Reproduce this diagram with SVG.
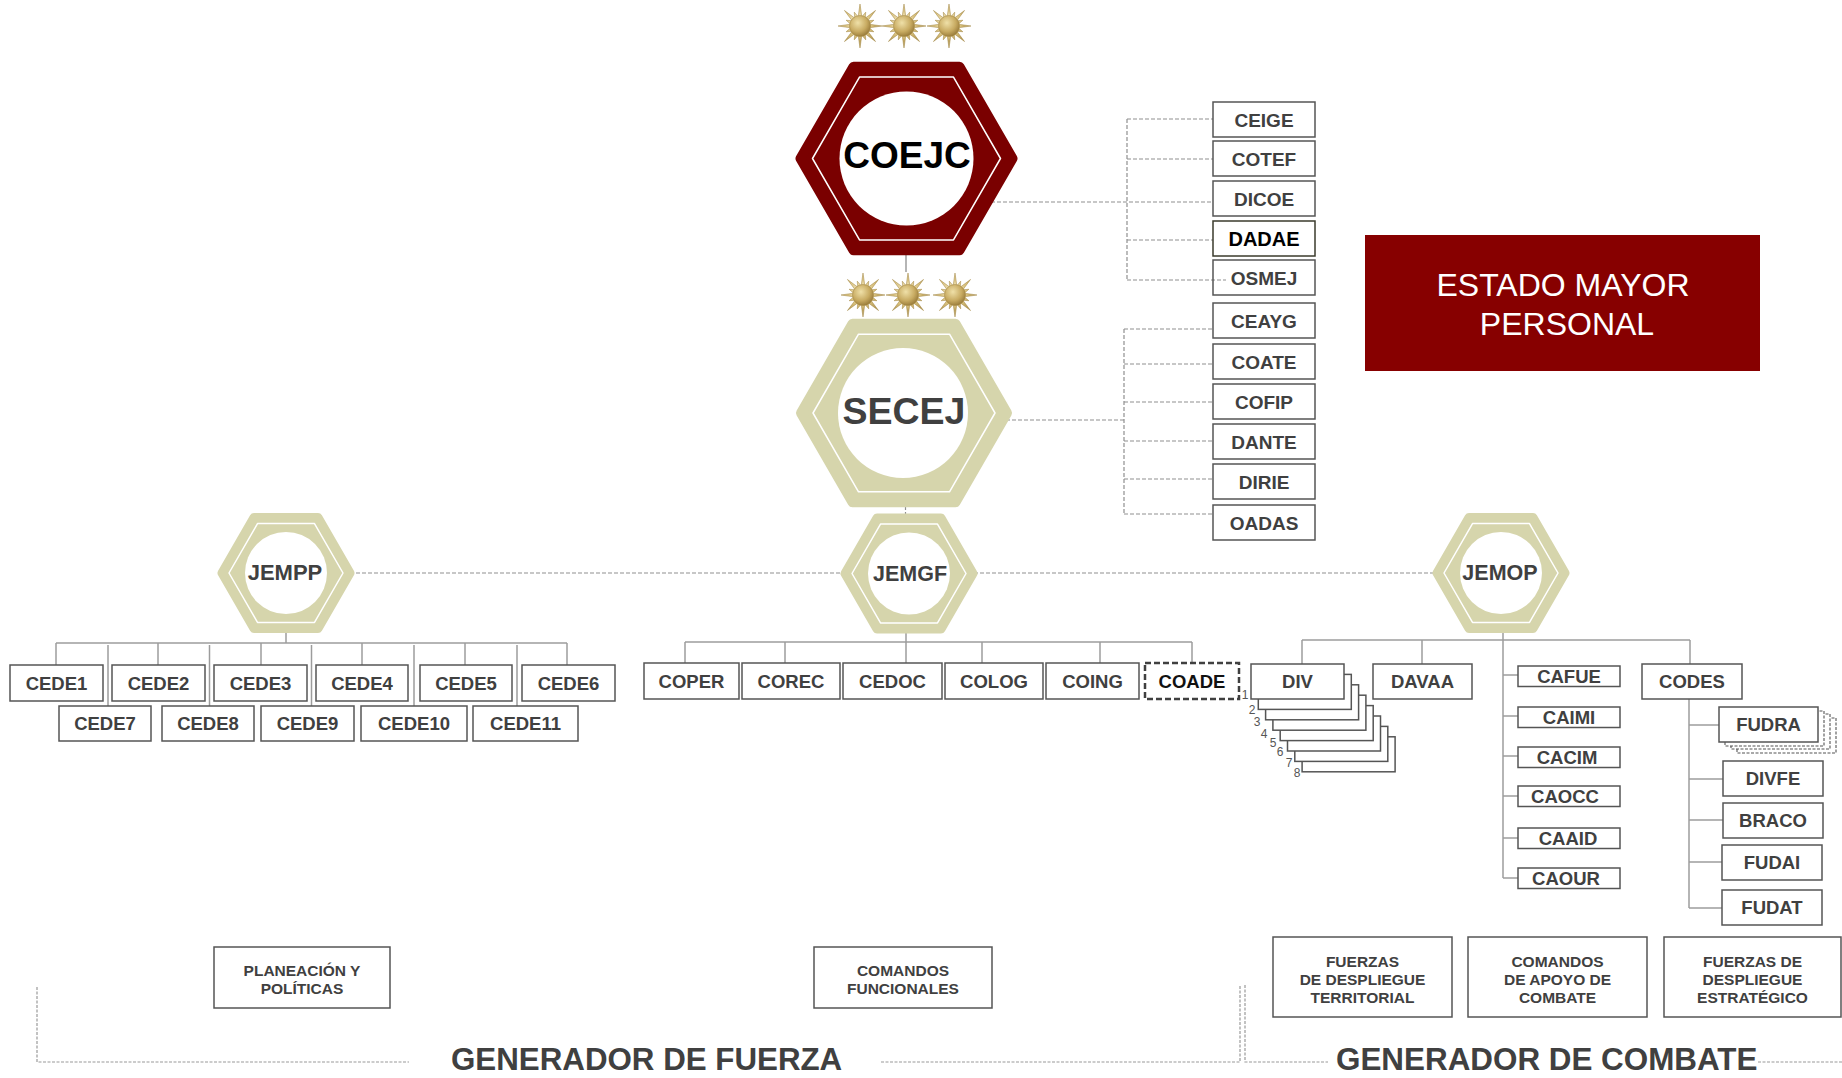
<svg xmlns="http://www.w3.org/2000/svg" width="1842" height="1078" viewBox="0 0 1842 1078">
<style>
.bg{fill:#ffffff}
.box{fill:#ffffff;stroke:#555555;stroke-width:1.5}
.t{font-family:"Liberation Sans",Arial,Helvetica,sans-serif;font-weight:bold;fill:#404040;text-anchor:middle}
.tb{font-size:18.5px}
.tr{font-size:19px}
.tl{font-size:15.5px}
.conn{stroke:#9c9c9c;stroke-width:1.5;fill:none}
.dash{stroke:#8f8f8f;stroke-width:1.2;stroke-dasharray:4 2;fill:none}
.dashb{stroke:#9a9a9a;stroke-width:1.2;stroke-dasharray:3 1.5;fill:none}
.hexk{fill:#d6d5ac;stroke:#d6d5ac;stroke-linejoin:round}
.hexr{fill:#7a0000;stroke:#7a0000;stroke-linejoin:round}
.inner{fill:none;stroke:#ffffff;stroke-width:1.5;stroke-linejoin:round}
.num{font-family:"Liberation Sans",Arial,sans-serif;font-size:12px;fill:#555555;text-anchor:middle}
</style>
<defs>
<radialGradient id="gold" cx="0.45" cy="0.4" r="0.65">
<stop offset="0" stop-color="#f6ecc6"/>
<stop offset="0.5" stop-color="#d8c07c"/>
<stop offset="1" stop-color="#9c7f3a"/>
</radialGradient>
<radialGradient id="goldc" cx="0.4" cy="0.35" r="0.7">
<stop offset="0" stop-color="#efe0a8"/>
<stop offset="0.6" stop-color="#c8ab62"/>
<stop offset="1" stop-color="#947636"/>
</radialGradient>
<g id="star">
<polygon fill="url(#gold)" stroke="#a08440" stroke-width="0.5" points="0,-22 1.85,-9.32 5.74,-13.86 5.28,-7.9 15.56,-15.56 7.9,-5.28 13.86,-5.74 9.32,-1.85 22,0 9.32,1.85 13.86,5.74 7.9,5.28 15.56,15.56 5.28,7.9 5.74,13.86 1.85,9.32 0,22 -1.85,9.32 -5.74,13.86 -5.28,7.9 -15.56,15.56 -7.9,5.28 -13.86,5.74 -9.32,1.85 -22,0 -9.32,-1.85 -13.86,-5.74 -7.9,-5.28 -15.56,-15.56 -5.28,-7.9 -5.74,-13.86 -1.85,-9.32"/>
<circle r="10.5" fill="url(#goldc)" stroke="#a08440" stroke-width="0.5"/>
</g>
</defs>
<rect class="bg" x="0" y="0" width="1842" height="1078"/>

<g id="connectors">
<line class="dash" x1="985" y1="202" x2="1213" y2="202"/>
<line class="dash" x1="1127" y1="119" x2="1127" y2="280"/>
<line class="dash" x1="1127" y1="119" x2="1213" y2="119"/>
<line class="dash" x1="1127" y1="159" x2="1213" y2="159"/>
<line class="dash" x1="1127" y1="240" x2="1213" y2="240"/>
<line class="dash" x1="1127" y1="280" x2="1226" y2="280"/>
<line class="dash" x1="1000" y1="420" x2="1124" y2="420"/>
<line class="dash" x1="1124" y1="329" x2="1124" y2="514"/>
<line class="dash" x1="1124" y1="329" x2="1213" y2="329"/>
<line class="dash" x1="1124" y1="364" x2="1213" y2="364"/>
<line class="dash" x1="1124" y1="402" x2="1213" y2="402"/>
<line class="dash" x1="1124" y1="441" x2="1213" y2="441"/>
<line class="dash" x1="1124" y1="479" x2="1213" y2="479"/>
<line class="dash" x1="1124" y1="514" x2="1213" y2="514"/>
<line class="conn" x1="906" y1="250" x2="906" y2="272" stroke-width="1.2"/>
<line class="dash" x1="905.5" y1="500" x2="905.5" y2="518"/>
<line class="dash" x1="350" y1="573" x2="1436" y2="573"/>
<line class="conn" x1="286" y1="630" x2="286" y2="643"/>
<line class="conn" x1="56" y1="643" x2="567" y2="643"/>
<line class="conn" x1="56" y1="643" x2="56" y2="665"/>
<line class="conn" x1="158" y1="643" x2="158" y2="665"/>
<line class="conn" x1="261" y1="643" x2="261" y2="665"/>
<line class="conn" x1="362" y1="643" x2="362" y2="665"/>
<line class="conn" x1="465" y1="643" x2="465" y2="665"/>
<line class="conn" x1="567" y1="643" x2="567" y2="665"/>
<line class="conn" x1="108" y1="645" x2="108" y2="706"/>
<line class="conn" x1="209.5" y1="645" x2="209.5" y2="706"/>
<line class="conn" x1="311.5" y1="645" x2="311.5" y2="706"/>
<line class="conn" x1="414" y1="645" x2="414" y2="706"/>
<line class="conn" x1="517" y1="645" x2="517" y2="706"/>
<line class="conn" x1="906" y1="630" x2="906" y2="663"/>
<line class="conn" x1="685" y1="642" x2="1192" y2="642"/>
<line class="conn" x1="685" y1="642" x2="685" y2="663"/>
<line class="conn" x1="785" y1="642" x2="785" y2="663"/>
<line class="conn" x1="982" y1="642" x2="982" y2="663"/>
<line class="conn" x1="1100" y1="642" x2="1100" y2="663"/>
<line class="conn" x1="1192" y1="642" x2="1192" y2="663"/>
<line class="conn" x1="1503" y1="630" x2="1503" y2="878"/>
<line class="conn" x1="1302" y1="640" x2="1690" y2="640"/>
<line class="conn" x1="1302" y1="640" x2="1302" y2="664"/>
<line class="conn" x1="1422" y1="640" x2="1422" y2="664"/>
<line class="conn" x1="1690" y1="640" x2="1690" y2="664"/>
<line class="conn" x1="1503" y1="675" x2="1518" y2="675"/>
<line class="conn" x1="1503" y1="716" x2="1518" y2="716"/>
<line class="conn" x1="1503" y1="756" x2="1518" y2="756"/>
<line class="conn" x1="1503" y1="796" x2="1518" y2="796"/>
<line class="conn" x1="1503" y1="838" x2="1518" y2="838"/>
<line class="conn" x1="1503" y1="878" x2="1518" y2="878"/>
<line class="conn" x1="1689" y1="699" x2="1689" y2="908"/>
<line class="conn" x1="1689" y1="725" x2="1719" y2="725"/>
<line class="conn" x1="1689" y1="779" x2="1723" y2="779"/>
<line class="conn" x1="1689" y1="820" x2="1723" y2="820"/>
<line class="conn" x1="1689" y1="862" x2="1722" y2="862"/>
<line class="conn" x1="1689" y1="908" x2="1722" y2="908"/>
<polyline class="dashb" points="37,987 37,1062 409,1062"/>
<polyline class="dashb" points="881,1062 1240,1062 1240,985"/>
<polyline class="dashb" points="1245,985 1245,1062 1328,1062"/>
<line class="dashb" x1="1758" y1="1062" x2="1842" y2="1062"/>
</g>

<g id="stars-top">
<use href="#star" transform="translate(860,26)"/>
<use href="#star" transform="translate(904,26)"/>
<use href="#star" transform="translate(949,26)"/>
</g>
<g id="stars-secej">
<use href="#star" transform="translate(863,295)"/>
<use href="#star" transform="translate(908,295)"/>
<use href="#star" transform="translate(955,295)"/>
</g>

<g id="COEJC">
<polygon class="hexr" stroke-width="10" points="1012.5,158.5 959.5,250.3 853.5,250.3 800.5,158.5 853.5,66.7 959.5,66.7"/>
<polygon class="inner" points="1000.5,158.5 953.5,239.9 859.5,239.9 812.5,158.5 859.5,77.1 953.5,77.1"/>
<circle cx="906.5" cy="158.5" r="67" fill="#ffffff"/>
<text class="t" x="907" y="168" font-size="37" style="fill:#000000">COEJC</text>
</g>

<g id="SECEJ">
<polygon class="hexk" stroke-width="10" points="1007,413 955.5,502.2 852.5,502.2 801,413 852.5,323.8 955.5,323.8"/>
<polygon class="inner" points="995,413 949.5,491.8 858.5,491.8 813,413 858.5,334.2 949.5,334.2"/>
<circle cx="903" cy="413" r="65" fill="#ffffff"/>
<text class="t" x="904" y="424" font-size="37.5">SECEJ</text>
</g>

<g id="JEMPP">
<polygon class="hexk" stroke-width="9" points="350,573 318,628.4 254,628.4 222,573 254,517.6 318,517.6"/>
<polygon class="inner" points="343,573 314.5,622.4 257.5,622.4 229,573 257.5,523.6 314.5,523.6"/>
<circle cx="286" cy="573" r="41" fill="#ffffff"/>
<text class="t" x="285" y="579.5" font-size="22">JEMPP</text>
</g>

<g id="JEMGF">
<polygon class="hexk" stroke-width="9" points="973,573.5 941,628.9 877,628.9 845,573.5 877,518.1 941,518.1"/>
<polygon class="inner" points="966,573.5 937.5,622.9 880.5,622.9 852,573.5 880.5,524.1 937.5,524.1"/>
<circle cx="909" cy="573.5" r="41" fill="#ffffff"/>
<text class="t" x="910" y="581" font-size="21.5">JEMGF</text>
</g>

<g id="JEMOP">
<polygon class="hexk" stroke-width="9" points="1565,573 1533,628.4 1469,628.4 1437,573 1469,517.6 1533,517.6"/>
<polygon class="inner" points="1558,573 1529.5,622.4 1472.5,622.4 1444,573 1472.5,523.6 1529.5,523.6"/>
<circle cx="1501" cy="573" r="41" fill="#ffffff"/>
<text class="t" x="1500" y="580" font-size="21.5">JEMOP</text>
</g>

<g id="ESTADO-MAYOR">
<rect x="1365" y="235" width="395" height="136" fill="#870000"/>
<text x="1563" y="296" font-family="'Liberation Sans',Arial,sans-serif" font-size="32" fill="#ffffff" text-anchor="middle">ESTADO MAYOR</text>
<text x="1567" y="335" font-family="'Liberation Sans',Arial,sans-serif" font-size="32" fill="#ffffff" text-anchor="middle">PERSONAL</text>
</g>

<g id="CEIGE"><rect class="box" x="1213" y="102" width="102" height="35"/><text class="t tr" x="1264" y="126.5">CEIGE</text></g>
<g id="COTEF"><rect class="box" x="1213" y="141" width="102" height="35"/><text class="t tr" x="1264" y="165.5">COTEF</text></g>
<g id="DICOE"><rect class="box" x="1213" y="181" width="102" height="35"/><text class="t tr" x="1264" y="205.5">DICOE</text></g>
<g id="DADAE"><rect class="box" x="1213" y="221" width="102" height="35" style="stroke:#3b3b2c"/><text class="t tr" x="1264" y="245.5" style="fill:#000000;font-size:20px">DADAE</text></g>
<g id="OSMEJ"><rect x="1213" y="260" width="102" height="35" fill="none" stroke="#555555" stroke-width="1.5"/><text class="t tr" x="1264" y="284.5">OSMEJ</text></g>
<g id="CEAYG"><rect class="box" x="1213" y="303" width="102" height="35"/><text class="t tr" x="1264" y="327.5">CEAYG</text></g>
<g id="COATE"><rect class="box" x="1213" y="344" width="102" height="35"/><text class="t tr" x="1264" y="368.5">COATE</text></g>
<g id="COFIP"><rect class="box" x="1213" y="384" width="102" height="35"/><text class="t tr" x="1264" y="408.5">COFIP</text></g>
<g id="DANTE"><rect class="box" x="1213" y="424" width="102" height="35"/><text class="t tr" x="1264" y="448.5">DANTE</text></g>
<g id="DIRIE"><rect class="box" x="1213" y="464" width="102" height="35"/><text class="t tr" x="1264" y="488.5">DIRIE</text></g>
<g id="OADAS"><rect class="box" x="1213" y="505" width="102" height="35"/><text class="t tr" x="1264" y="529.5">OADAS</text></g>

<g id="CEDE1"><rect class="box" x="10" y="665" width="93" height="36"/><text class="t tb" x="56.5" y="689.5">CEDE1</text></g>
<g id="CEDE2"><rect class="box" x="112" y="665" width="93" height="36"/><text class="t tb" x="158.5" y="689.5">CEDE2</text></g>
<g id="CEDE3"><rect class="box" x="214" y="665" width="93" height="36"/><text class="t tb" x="260.5" y="689.5">CEDE3</text></g>
<g id="CEDE4"><rect class="box" x="316" y="665" width="92" height="36"/><text class="t tb" x="362" y="689.5">CEDE4</text></g>
<g id="CEDE5"><rect class="box" x="420" y="665" width="92" height="36"/><text class="t tb" x="466" y="689.5">CEDE5</text></g>
<g id="CEDE6"><rect class="box" x="522" y="665" width="93" height="36"/><text class="t tb" x="568.5" y="689.5">CEDE6</text></g>
<g id="CEDE7"><rect class="box" x="59" y="706" width="92" height="35"/><text class="t tb" x="105" y="730">CEDE7</text></g>
<g id="CEDE8"><rect class="box" x="162" y="706" width="92" height="35"/><text class="t tb" x="208" y="730">CEDE8</text></g>
<g id="CEDE9"><rect class="box" x="261" y="706" width="93" height="35"/><text class="t tb" x="307.5" y="730">CEDE9</text></g>
<g id="CEDE10"><rect class="box" x="361" y="706" width="106" height="35"/><text class="t tb" x="414" y="730">CEDE10</text></g>
<g id="CEDE11"><rect class="box" x="473" y="706" width="105" height="35"/><text class="t tb" x="525.5" y="730">CEDE11</text></g>

<g id="COPER"><rect class="box" x="644" y="663" width="95" height="36"/><text class="t tb" x="691.5" y="687.5">COPER</text></g>
<g id="COREC"><rect class="box" x="742" y="663" width="98" height="36"/><text class="t tb" x="791" y="687.5">COREC</text></g>
<g id="CEDOC"><rect class="box" x="843" y="663" width="99" height="36"/><text class="t tb" x="892.5" y="687.5">CEDOC</text></g>
<g id="COLOG"><rect class="box" x="945" y="663" width="98" height="36"/><text class="t tb" x="994" y="687.5">COLOG</text></g>
<g id="COING"><rect class="box" x="1046" y="663" width="93" height="36"/><text class="t tb" x="1092.5" y="687.5">COING</text></g>
<g id="COADE"><rect x="1145" y="663" width="94" height="36" fill="#ffffff" stroke="#404040" stroke-width="2.5" stroke-dasharray="6 3"/><text class="t tb" x="1192" y="688" style="fill:#111111">COADE</text></g>

<g id="DIV">
<rect class="box" x="1302.1" y="736.8" width="93" height="35"/>
<rect class="box" x="1294.8" y="726.4" width="93" height="35"/>
<rect class="box" x="1287.5" y="716" width="93" height="35"/>
<rect class="box" x="1280.2" y="705.6" width="93" height="35"/>
<rect class="box" x="1272.9" y="695.2" width="93" height="35"/>
<rect class="box" x="1265.6" y="684.8" width="93" height="35"/>
<rect class="box" x="1258.3" y="674.4" width="93" height="35"/>
<rect class="box" x="1251" y="664" width="93" height="35"/>
<text class="t tb" x="1297.5" y="688">DIV</text>
<text class="num" x="1245" y="698.5">1</text>
<text class="num" x="1252" y="713.5">2</text>
<text class="num" x="1257" y="725.5">3</text>
<text class="num" x="1264" y="737.5">4</text>
<text class="num" x="1273" y="746.5">5</text>
<text class="num" x="1280" y="755.5">6</text>
<text class="num" x="1289" y="766.5">7</text>
<text class="num" x="1297" y="776.5">8</text>
</g>
<g id="DAVAA"><rect class="box" x="1373" y="664" width="99" height="35"/><text class="t tb" x="1422.5" y="688">DAVAA</text></g>

<g id="CAFUE"><rect class="box" x="1518" y="666" width="102" height="20.5"/><text class="t tb" x="1569" y="682.5">CAFUE</text></g>
<g id="CAIMI"><rect class="box" x="1518" y="707" width="102" height="20.5"/><text class="t tb" x="1569" y="723.5">CAIMI</text></g>
<g id="CACIM"><rect class="box" x="1518" y="747" width="102" height="20.5"/><text class="t tb" x="1567" y="763.5">CACIM</text></g>
<g id="CAOCC"><rect class="box" x="1518" y="786" width="102" height="20.5"/><text class="t tb" x="1565" y="802.5">CAOCC</text></g>
<g id="CAAID"><rect class="box" x="1518" y="828" width="102" height="20.5"/><text class="t tb" x="1568" y="844.5">CAAID</text></g>
<g id="CAOUR"><rect class="box" x="1518" y="868" width="102" height="20.5"/><text class="t tb" x="1566" y="884.5">CAOUR</text></g>

<g id="CODES"><rect class="box" x="1642" y="664" width="100" height="35"/><text class="t tb" x="1692" y="688">CODES</text></g>
<g id="FUDRA">
<rect x="1737" y="718" width="99" height="35" fill="#ffffff" stroke="#555555" stroke-width="1.1" stroke-dasharray="3 1.5"/>
<rect x="1731" y="714" width="99" height="35" fill="#ffffff" stroke="#555555" stroke-width="1.1" stroke-dasharray="3 1.5"/>
<rect x="1725" y="711" width="99" height="35" fill="#ffffff" stroke="#555555" stroke-width="1.1" stroke-dasharray="3 1.5"/>
<rect class="box" x="1719" y="707" width="99" height="35"/>
<text class="t tb" x="1768.5" y="731">FUDRA</text>
</g>
<g id="DIVFE"><rect class="box" x="1723" y="761" width="100" height="35"/><text class="t tb" x="1773" y="785">DIVFE</text></g>
<g id="BRACO"><rect class="box" x="1723" y="803" width="100" height="35"/><text class="t tb" x="1773" y="827">BRACO</text></g>
<g id="FUDAI"><rect class="box" x="1722" y="845" width="100" height="35"/><text class="t tb" x="1772" y="869">FUDAI</text></g>
<g id="FUDAT"><rect class="box" x="1722" y="890" width="100" height="35"/><text class="t tb" x="1772" y="914">FUDAT</text></g>

<g id="PLANEACION"><rect class="box" x="214" y="947" width="176" height="61"/>
<text class="t tl" x="302" y="975.5">PLANEACIÓN Y</text><text class="t tl" x="302" y="994">POLÍTICAS</text></g>
<g id="COMANDOS-FUNCIONALES"><rect class="box" x="814" y="947" width="178" height="61"/>
<text class="t tl" x="903" y="975.5">COMANDOS</text><text class="t tl" x="903" y="994">FUNCIONALES</text></g>
<g id="FUERZAS-TERRITORIAL"><rect class="box" x="1273" y="937" width="179" height="80"/>
<text class="t tl" x="1362.5" y="966.5">FUERZAS</text><text class="t tl" x="1362.5" y="985">DE DESPLIEGUE</text><text class="t tl" x="1362.5" y="1003">TERRITORIAL</text></g>
<g id="COMANDOS-APOYO"><rect class="box" x="1468" y="937" width="179" height="80"/>
<text class="t tl" x="1557.5" y="966.5">COMANDOS</text><text class="t tl" x="1557.5" y="985">DE APOYO DE</text><text class="t tl" x="1557.5" y="1003">COMBATE</text></g>
<g id="FUERZAS-ESTRATEGICO"><rect class="box" x="1664" y="937" width="177" height="80"/>
<text class="t tl" x="1752.5" y="966.5">FUERZAS DE</text><text class="t tl" x="1752.5" y="985">DESPLIEGUE</text><text class="t tl" x="1752.5" y="1003">ESTRATÉGICO</text></g>

<g id="section-labels">
<text class="t" x="451" y="1070" font-size="31.3" style="text-anchor:start">GENERADOR DE FUERZA</text>
<text class="t" x="1336" y="1070" font-size="31.4" style="text-anchor:start">GENERADOR DE COMBATE</text>
</g>
</svg>
